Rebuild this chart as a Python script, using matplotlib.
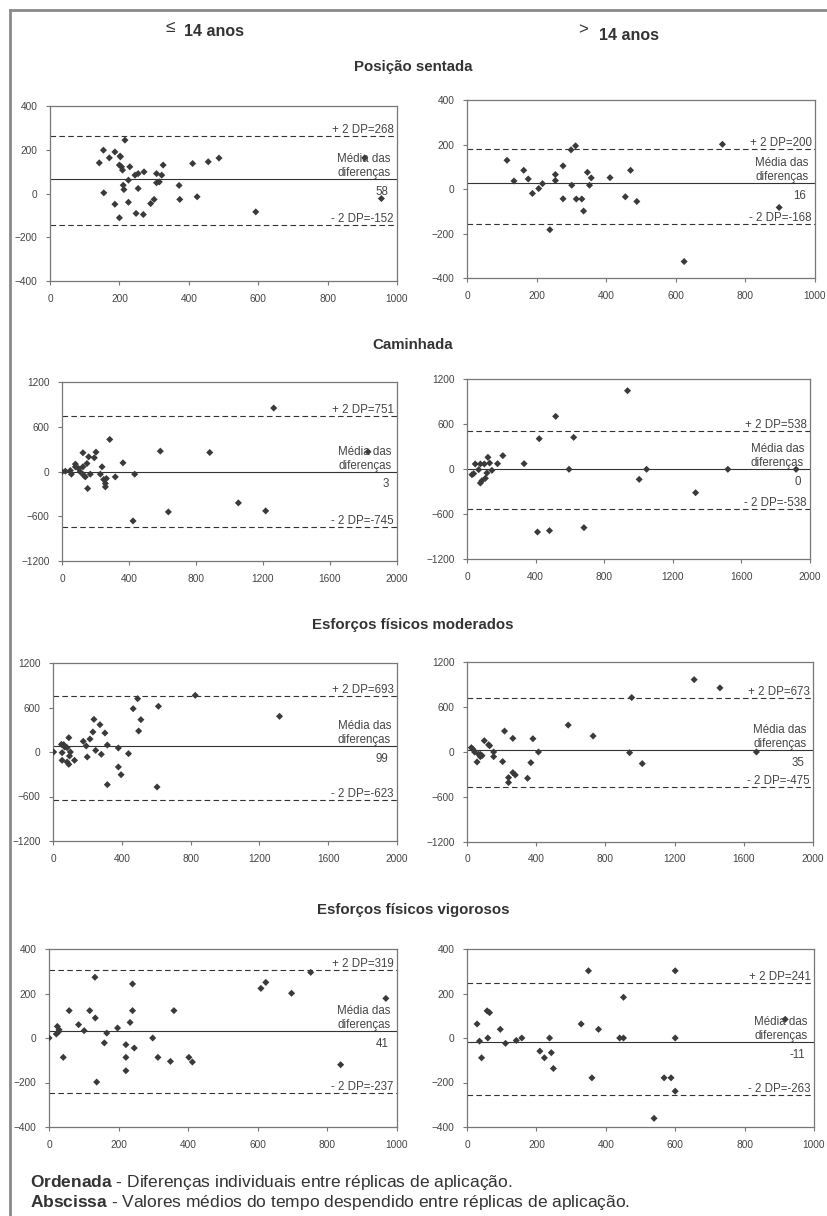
import matplotlib
matplotlib.use("Agg")
from matplotlib import pyplot as plt
from matplotlib.lines import Line2D

plt.rcParams['font.family'] = ['Liberation Sans', 'DejaVu Sans']
plt.rcParams['mathtext.fontset'] = 'custom'
plt.rcParams['mathtext.rm'] = 'Liberation Sans'
plt.rcParams['mathtext.bf'] = 'Liberation Sans:bold'

W, H = 827, 1216
GRAY = '#444444'

# ---- data: (mean of replicates, difference) per panel ----
sent_le_x = [142, 154, 171, 187, 202, 203, 216, 200, 206, 209, 230, 211, 213, 226, 245, 254, 271, 254,
             307, 307, 315, 322, 326, 155, 187, 200, 226, 248, 269, 290, 300, 372, 374, 411, 424, 456,
             487, 593, 907, 955]
sent_le_y = [140, 198, 163, 190, 171, 168, 244, 130, 122, 107, 122, 38, 18, 61, 84, 91, 99, 23,
             91, 49, 53, 84, 130, 3, -49, -111, -40, -91, -96, -46, -27, 37, -27, 137, -15, 145,
             162, -84, 163, -23]

sent_gt_x = [115, 135, 163, 176, 188, 206, 217, 238, 254, 254, 276, 276, 299, 312, 301, 314, 330, 335,
             346, 352, 357, 411, 455, 470, 488, 624, 734, 897]
sent_gt_y = [129, 36, 84, 45, -20, 2, 24, -183, 65, 38, 104, -44, 176, 194, 17, -45, -45, -99,
             75, 17, 50, 51, -35, 84, -56, -326, 201, -83]

cam_le_x = [0, 20, 50, 56, 80, 80, 99, 109, 125, 125, 129, 139, 149, 153, 159, 169, 193, 203, 229, 239,
            249, 259, 259, 265, 285, 318, 364, 424, 434, 587, 635, 882, 1053, 1216, 1264, 1827]
cam_le_y = [-4, 4, 13, -36, 63, 99, 40, -4, 251, 63, -49, -72, 107, -228, 197, -36, 184, 260, -36, 63,
            -107, -161, -206, -94, 430, -72, 116, -663, -36, 273, -542, 255, -421, -528, 851, 264]

cam_gt_x = [29, 39, 48, 68, 78, 78, 87, 101, 107, 116, 122, 132, 145, 178, 209, 333, 411, 421, 481, 517,
            595, 622, 682, 936, 1004, 1047, 1333, 1521, 1919]
cam_gt_y = [-76, -62, 67, -9, 67, -187, -156, 67, -124, -53, 156, 80, -18, 71, 178, 71, -840, 404, -822, 702,
            -4, 422, -782, 1044, -138, -4, -316, -4, -4]

mod_le_x = [4, 49, 53, 53, 62, 68, 82, 82, 92, 92, 96, 101, 125, 176, 193, 199, 215, 232, 238, 248,
            273, 281, 302, 316, 316, 380, 380, 396, 439, 466, 492, 498, 511, 605, 613, 827, 1317]
mod_le_y = [0, 103, -112, -9, 99, 67, 58, -135, -166, 193, -54, 0, -112, 144, 81, -67, 175, 270, 440, 22,
            368, -31, 256, 94, -440, 54, -202, -306, -22, 584, 719, 283, 436, -472, 616, 764, 481]

mod_gt_x = [25, 35, 44, 58, 67, 77, 87, 77, 100, 125, 131, 154, 154, 206, 217, 240, 240, 265, 265, 279,
            350, 369, 381, 413, 585, 729, 940, 952, 1013, 1313, 1462, 1673]
mod_gt_y = [58, 35, 0, -133, -31, -62, -49, -31, 151, 97, 84, 0, -62, -128, 279, -341, -407, 182, -275, -306,
            -350, -142, 177, 0, 359, 213, -9, 726, -155, 965, 855, 0]

vig_le_x = [0, 21, 24, 27, 29, 41, 58, 85, 101, 117, 132, 133, 137, 159, 166, 197, 221, 221, 221, 233,
            240, 240, 245, 298, 313, 349, 359, 402, 412, 609, 623, 697, 752, 838, 968]
vig_le_y = [0, 18, 52, 27, 37, -87, 123, 60, 33, 123, 273, 90, -198, -22, 22, 45, -30, -87, -147, 70,
            243, 123, -45, 0, -87, -105, 123, -87, -108, 223, 250, 201, 295, -120, 178]

vig_gt_x = [29, 36, 42, 58, 65, 60, 96, 111, 142, 158, 210, 223, 238, 243, 249, 329, 350, 360, 379, 440,
            451, 451, 539, 568, 588, 600, 600, 600, 917]
vig_gt_y = [63, -14, -89, 122, 114, 0, 39, -24, -11, 0, -59, -89, 0, -66, -137, 63, 302, -179, 39, 0,
            0, 183, -361, -179, -179, 302, 0, -239, 84]

# limits of agreement as drawn (upper, mean, lower) and the printed labels
lines_drawn = [(262, 68, -146), (182, 27, -159), (743, 0, -743), (511, 0, -529),
               (760, 81, -652), (722, 31, -461), (306, 33, -249), (247, -17, -254)]
labels_up = ['+ 2 DP=268', '+ 2 DP=200', '+ 2 DP=751', '+ 2 DP=538',
             '+ 2 DP=693', '+ 2 DP=673', '+ 2 DP=319', '+ 2 DP=241']
labels_mean = ['58', '16', '3', '0', '99', '35', '41', '-11']
labels_low = ['- 2 DP=-152', '- 2 DP=-168', '- 2 DP=-745', '- 2 DP=-538',
              '- 2 DP=-623', '- 2 DP=-475', '- 2 DP=-237', '- 2 DP=-263']

section_titles = ['Posição sentada', 'Caminhada', 'Esforços físicos moderados', 'Esforços físicos vigorosos']

panels = [
    (sent_le_x, sent_le_y, (50, 106, 397, 281), 1000, 200, 400, 200),
    (sent_gt_x, sent_gt_y, (467, 100, 815, 278), 1000, 200, 400, 200),
    (cam_le_x, cam_le_y, (62, 382, 397, 561), 2000, 400, 1200, 600),
    (cam_gt_x, cam_gt_y, (467, 379, 810, 559), 2000, 400, 1200, 600),
    (mod_le_x, mod_le_y, (53, 663, 397, 841), 2000, 400, 1200, 600),
    (mod_gt_x, mod_gt_y, (467, 662, 813, 842), 2000, 400, 1200, 600),
    (vig_le_x, vig_le_y, (49, 949, 397, 1127), 1000, 200, 400, 200),
    (vig_gt_x, vig_gt_y, (467, 949, 814, 1127), 1000, 200, 400, 200),
]

fig = plt.figure(figsize=(W / 100, H / 100), dpi=100)

# page frame: top and left rules only
fig.add_artist(Line2D([10 / W, 1.0], [1 - 10 / H, 1 - 10 / H], color='#8a8a8a', lw=2))
fig.add_artist(Line2D([10 / W, 10 / W], [1 - 10 / H, 0.0], color='#8a8a8a', lw=2))

# column headers (symbol drawn apart and raised, as in the original)
fig.text(170 / W, 1 - 28 / H, '≤', ha='center', va='center', fontsize=12.5, color='#333333')
fig.text(184 / W, 1 - 31 / H, '14 anos', ha='left', va='center', fontsize=11.5,
         fontweight='bold', color='#333333')
fig.text(583 / W, 1 - 30 / H, '>', ha='center', va='center', fontsize=12, color='#333333')
fig.text(599 / W, 1 - 35 / H, '14 anos', ha='left', va='center', fontsize=11.5,
         fontweight='bold', color='#333333')

for t, ty in zip(section_titles, [67, 345, 625, 910]):
    fig.text(413 / W, 1 - ty / H, t, ha='center', va='center', fontsize=10.8,
             fontweight='bold', color='#333333')

for i, (xs, ys, box, xmax, xstep, ylim, ystep) in enumerate(panels):
    x0, y0, x1, y1 = box
    ax = fig.add_axes([x0 / W, 1 - y1 / H, (x1 - x0) / W, (y1 - y0) / H])
    ax.scatter(xs, ys, marker='D', s=13, color='#3a3a3a', edgecolors='none', zorder=3)
    up, mean, low = lines_drawn[i]
    ax.axhline(up, color='#333333', lw=0.8, ls=(0, (5, 3)))
    ax.axhline(mean, color='#333333', lw=0.8)
    ax.axhline(low, color='#333333', lw=0.8, ls=(0, (5, 3)))
    ax.set_xlim(0, xmax)
    ax.set_ylim(-ylim, ylim)
    ax.set_xticks(range(0, xmax + 1, xstep))
    ax.set_yticks(range(-ylim, ylim + 1, ystep))
    ax.tick_params(labelsize=7.3, labelcolor=GRAY, color='#777777', length=3, width=0.8, pad=6)
    for s in ax.spines.values():
        s.set_color('#777777')
        s.set_linewidth(0.9)
    ax.patch.set_alpha(0)

    tr = ax.get_yaxis_transform()
    ax.text(0.99, up, labels_up[i], transform=tr, ha='right', va='bottom', fontsize=8.3,
            color=GRAY)
    ax.text(0.99, low, labels_low[i], transform=tr, ha='right', va='bottom', fontsize=8.3,
            color=GRAY)
    ax.annotate('Média das\ndiferenças', xy=(0.905, mean), xycoords=tr, ha='center', va='bottom',
                fontsize=8.3, color=GRAY, linespacing=1.2)
    ax.annotate(labels_mean[i], xy=(0.975, mean), xycoords=tr, xytext=(0, -5),
                textcoords='offset points', ha='right', va='top', fontsize=8.3, color=GRAY)

fig.text(30 / W, 1 - 1182 / H, r'$\bf{Ordenada}$ - Diferenças individuais entre réplicas de aplicação.',
         ha='left', va='center', fontsize=12.5, color='#333333')
fig.text(30 / W, 1 - 1202 / H, r'$\bf{Abscissa}$ - Valores médios do tempo despendido entre réplicas de aplicação.',
         ha='left', va='center', fontsize=12.5, color='#333333')

fig.savefig('out.png', dpi=100)
